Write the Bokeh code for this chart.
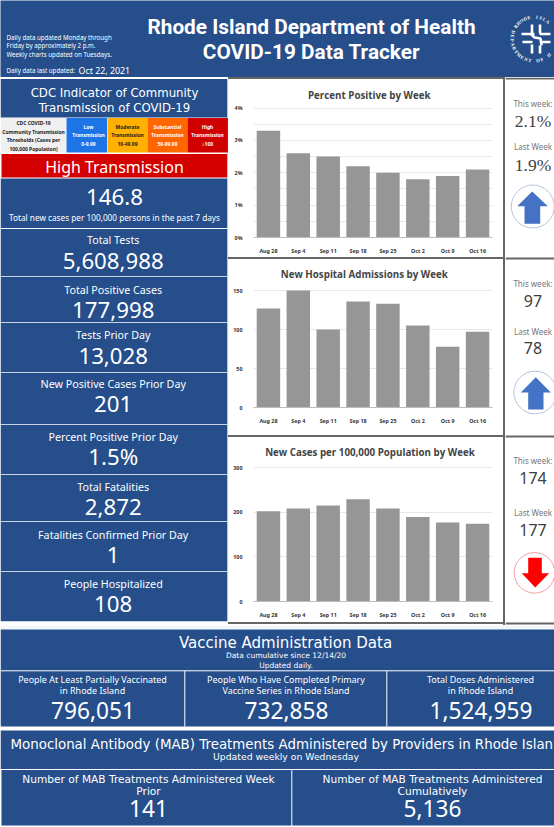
import numpy as np
from bokeh.plotting import figure
from bokeh.layouts import column, row
from bokeh.models import Range1d, FactorRange, Label, FixedTicker, Spacer
from bokeh.embed import file_html
from bokeh.resources import INLINE

# ---------- data ----------
WEEKS = ["Aug 28", "Sep 4", "Sep 11", "Sep 18", "Sep 25", "Oct 2", "Oct 9", "Oct 16"]
PERCENT_POSITIVE = [3.3, 2.6, 2.5, 2.2, 2.0, 1.8, 1.9, 2.1]
HOSPITAL_ADMISSIONS = [127, 150, 100, 136, 133, 105, 78, 97]
CASES_PER_100K = [202, 208, 215, 229, 208, 189, 177, 174]
CHART_TITLES = ["Percent Positive by Week", "New Hospital Admissions by Week",
                "New Cases per 100,000 Population by Week"]
THIS_WEEK = ["2.1%", "97", "174"]
LAST_WEEK = ["1.9%", "78", "177"]
STAT_TITLES = ["Total Tests", "Total Positive Cases", "Tests Prior Day",
               "New Positive Cases Prior Day", "Percent Positive Prior Day",
               "Total Fatalities", "Fatalities Confirmed Prior Day", "People Hospitalized"]
STAT_VALUES = ["5,608,988", "177,998", "13,028", "201", "1.5%", "2,872", "1", "108"]
VACCINE_TITLES = [["People At Least Partially Vaccinated", "in Rhode Island"],
                  ["People Who Have Completed Primary", "Vaccine Series in Rhode Island"],
                  ["Total Doses Administered", "in Rhode Island"]]
VACCINE_VALUES = ["796,051", "732,858", "1,524,959"]
MAB_TITLES = [["Number of MAB Treatments Administered Week", "Prior"],
              ["Number of MAB Treatments Administered", "Cumulatively"]]
MAB_VALUES = ["141", "5,136"]
THRESHOLDS = [["CDC COVID-19", "Community Transmission", "Thresholds (Cases per", "100,000 Population)"],
              ["Low", "Transmission", "0-9.99"],
              ["Moderate", "Transmission", "10-49.99"],
              ["Substantial", "Transmission", "50-99.99"],
              ["High", "Transmission", "\u2265100"]]

# ---------- layout constants ----------
W, H = 554, 827
BLUE = "#254E8B"
GRAY = "#666666"
SANS = "Noto Sans"
WIDE = "DejaVu Sans"

HEAD_H = 77
FOOT_H = 202
MID_H = H - HEAD_H - FOOT_H
LEFT_W = 228
CHART_W = 275
RIGHT_W = W - LEFT_W - CHART_W - 2
FS = 1 / 0.971  # font sizes below were measured on a 0.971 scale


def panel(width, height, x0, x1, y0, y1, bg="white"):
    p = figure(width=width, height=height, x_range=Range1d(x0, x1), y_range=Range1d(y1, y0),
               x_axis_location=None, y_axis_location=None, min_border=0,
               toolbar_location=None, output_backend="svg", background_fill_color=bg,
               border_fill_color=bg)
    p.grid.visible = False
    p.outline_line_color = None
    return p


def text(p, x, y, s, size, color="white", font=SANS, bold=False, align="center", angle=0):
    p.add_layout(Label(x=x, y=y, text=s, text_font_size=f"{size * FS:.2f}px", text_color=color,
                       text_font=font, text_font_style="bold" if bold else "normal",
                       text_align=align, text_baseline="middle", angle=angle))


def box(p, l, r, t, b, color):
    p.quad(left=[l], right=[r], top=[t], bottom=[b], fill_color=color, line_color=None)


# ---------- header ----------
header = panel(W, HEAD_H, 0, 554, 0, 77, BLUE)
for s, y in zip(["Daily data updated Monday through", "Friday by approximately 2 p.m.",
                 "Weekly charts updated on Tuesdays."], [36.5, 45, 53.5]):
    text(header, 6, y, s, 6, align="left")
text(header, 6, 70, "Daily data last updated:", 6, align="left")
text(header, 78, 70, "Oct 22, 2021", 8.6, align="left")
text(header, 311, 26, "Rhode Island Department of Health", 20.2, font="Roboto", bold=True)
text(header, 311, 51, "COVID-19 Data Tracker", 20.2, font="Roboto", bold=True)

# logo: lettering around a ring and a stylised emblem
cx, cy, rad = 533.5, 38.5, 22.0
for i, ch in enumerate("RHODE ISLA"):
    th = np.radians(145 - i * 10.4)
    text(header, cx + rad * np.cos(th), cy - rad * np.sin(th), ch, 4.6, font="Liberation Serif",
         bold=True, angle=th - np.pi / 2)
for i, ch in enumerate("DEPARTMENT OF H"):
    th = np.radians(162 + i * 10.8)
    text(header, cx + rad * np.cos(th), cy - rad * np.sin(th), ch, 4.6, font="Liberation Serif",
         bold=True, angle=th + np.pi / 2)
header.multi_line(xs=[[531.5, 531.5], [539.5, 539.5], [521, 534], [539, 550], [522, 532], [540, 550],
                      [531.5, 531.5], [539.5, 539.5], [530, 534, 540, 541]],
                  ys=[[24, 34], [24, 33], [33.5, 33.5], [33.5, 33.5], [41.5, 41.5], [41.5, 41.5],
                      [44, 53], [45, 53], [33, 37, 38, 45]],
                  line_color="white", line_width=2.6)

# ---------- left column ----------
left = panel(LEFT_W, MID_H, 0, 228, 77, 625, "white")
box(left, 0, 226.7, 78.5, 117, BLUE)
text(left, 114, 92, "CDC Indicator of Community", 11.4, font=WIDE)
text(left, 114, 107, "Transmission of COVID-19", 11.4, font=WIDE)

cells = [(0, 65.5, "#F0F0F0", "#222222", 33), (66, 106.5, "#1D74E6", "white", 88),
         (107, 147, "#FFB000", "#222222", 127), (147, 187, "#FF6600", "white", 167),
         (187, 228, "#D00000", "white", 207)]
for (l, r, bg, fg, mid), lines in zip(cells, THRESHOLDS):
    box(left, l, r, 117.5, 152, bg)
    ys = [122, 131, 139.5, 148] if len(lines) == 4 else [126, 134.5, 143]
    for s, y in zip(lines, ys):
        text(left, mid, y, s, 4.8, color=fg, bold=True)

box(left, 1, 226.7, 153.5, 177, "#D40000")
text(left, 114, 166.5, "High Transmission", 15.5)
box(left, 0, 226.7, 178, 227.5, BLUE)
text(left, 114, 196, "146.8", 21.6)
text(left, 114, 216.5, "Total new cases per 100,000 persons in the past 7 days", 8)

edges = [228.5, 276.5, 322.5, 372.5, 424.5, 474.5, 521.5, 571.5, 621.5]
title_y = [239, 289, 334, 383, 436, 486, 534, 583]
value_y = [260, 309, 355, 403, 456, 506, 554, 603]
for i, (t, v) in enumerate(zip(STAT_TITLES, STAT_VALUES)):
    box(left, 0, 226.7, edges[i], edges[i + 1] - 0.8, BLUE)
    text(left, 112.7, title_y[i], t, 10.4)
    text(left, 112.7, value_y[i], v, 21.6)
left.line([227.8, 227.8], [78, 622], line_color=GRAY, line_width=1)


# ---------- charts ----------
def chart(values, title, ymax, yticks, ylabels, gridticks, top, bottom, f_top, f_bot, title_x, title_y_):
    h = bottom - top
    # the frame runs up to the top of the figure, so that the title can sit in it
    unit = ymax / (f_bot - f_top)
    p = figure(width=CHART_W, height=h, x_range=FactorRange(*WEEKS, factor_padding=0, range_padding=0),
               y_range=Range1d(0, (f_bot - top) * unit), toolbar_location=None, output_backend="svg",
               min_border_left=25, min_border_right=11,
               min_border_top=0, min_border_bottom=bottom - f_bot)
    p.vbar(x=WEEKS, top=values, width=0.785, fill_color="#969696", line_color=None)
    p.outline_line_color = None
    p.xgrid.visible = False
    p.ygrid.ticker = FixedTicker(ticks=gridticks)
    p.ygrid.grid_line_color = "#E8E8E8"
    p.yaxis.ticker = FixedTicker(ticks=yticks)
    p.yaxis.major_label_overrides = dict(zip(yticks, ylabels))
    p.yaxis.axis_line_color = None
    p.xaxis.axis_line_color = "#BDBDBD"
    for ax in (p.xaxis[0], p.yaxis[0]):
        ax.major_tick_line_color = None
        ax.minor_tick_line_color = None
        ax.major_label_text_font_size = f"{5.2 * FS:.2f}px"
        ax.major_label_text_color = "#333333"
        ax.major_label_text_font = SANS
        ax.major_label_text_font_style = "bold"
    p.xaxis.major_label_standoff = 3
    p.yaxis.major_label_standoff = 5
    pos = (title_x - 253) / 29.93
    idx = int(pos)
    p.text(x=[(WEEKS[idx], pos - idx - 0.5)], y=[(f_bot - title_y_) * unit], text=[title],
           text_font=["Open Sans"], text_font_style="bold", text_font_size=f"{9.5 * FS:.2f}px",
           text_color="#444444", text_align="center", text_baseline="middle")
    return p


c1 = chart(PERCENT_POSITIVE, CHART_TITLES[0], 4, [0, 1, 2, 3, 4], ["0%", "1%", "2%", "3%", "4%"],
           [0, .5, 1, 1.5, 2, 2.5, 3, 3.5, 4], 79, 257, 107.7, 238, 369, 95)
c2 = chart(HOSPITAL_ADMISSIONS, CHART_TITLES[1], 150, [0, 50, 100, 150], ["0", "50", "100", "150"],
           [0, 50, 100, 150], 259, 435, 290, 407, 364, 274.3)
c3 = chart(CASES_PER_100K, CHART_TITLES[2], 300, [0, 100, 200, 300], ["0", "100", "200", "300"],
           [0, 100, 200, 300], 437, 622, 467, 601, 369.7, 451.7)


def rule(w, h, color=GRAY):
    return Spacer(width=w, height=h, styles={"background-color": color})


used = c1.height + c2.height + c3.height + 8
charts = column(rule(CHART_W, 2), c1, rule(CHART_W, 2), c2, rule(CHART_W, 2), c3, rule(CHART_W, 2),
                rule(CHART_W, MID_H - used, "white"), spacing=0)

# ---------- right column ----------
right = panel(RIGHT_W, MID_H, 505, 554, 77, 625)
for y in (78, 258, 436, 623):
    right.line([505, 554], [y, y], line_color=GRAY, line_width=2)
txt_y = [(102.7, 120, 146, 164), (283, 300, 330.7, 347.3), (460, 477.3, 512.3, 529)]
for i, (tw, lw) in enumerate(zip(THIS_WEEK, LAST_WEEK)):
    f = "Liberation Serif" if i == 0 else SANS
    sz = 17 if i == 0 else 15.5
    a, b, c, d = txt_y[i]
    text(right, 532.5, a, "This week:", 7.8, color="#777777")
    text(right, 532.5, b, tw, sz, color="#404040", font=f)
    text(right, 532.5, c, "Last Week", 7.8, color="#777777")
    text(right, 532.5, d, lw, sz, color="#404040", font=f)

right.circle(x=[532.3], y=[206], radius=21.5, fill_color="white", line_color="#B8C4DC", line_width=1)
right.patch([531.7, 547.3, 539.7, 539.7, 524, 524, 516.7], [191, 205.7, 205.7, 223.3, 223.3, 205.7, 205.7],
            fill_color="#4472C4", line_color=None)
right.circle(x=[534.7], y=[392], radius=21.3, fill_color="white", line_color="#B8C4DC", line_width=1)
right.patch([535.3, 550.3, 543, 543, 527.7, 527.7, 520.3], [376.7, 392, 392, 409, 409, 392, 392],
            fill_color="#4472C4", line_color=None)
right.circle(x=[534], y=[572.3], radius=20.3, fill_color="white", line_color="#F4A0A0", line_width=1)
right.patch([527.7, 541.3, 541.3, 548.7, 534.7, 521.3, 527.7], [557.3, 557.3, 572.7, 572.7, 587, 572.7, 572.7],
            fill_color="#FF0000", line_color=None)

middle = row(left, charts, rule(2, MID_H), right, spacing=0)

# ---------- bottom ----------
bottom = panel(W, FOOT_H, 0, 554, 625, 827)
box(bottom, 0, 554, 625, 629, "#F3F7FA")
box(bottom, 0, 554, 629, 726, BLUE)
box(bottom, 0, 554, 730, 768.5, BLUE)
box(bottom, 1, 290.8, 769.5, 825, BLUE)
box(bottom, 291.8, 554, 769.5, 825, BLUE)
bottom.line([0, 554], [670.3, 670.3], line_color="white", line_width=1)
bottom.line([184.3, 184.3], [670.3, 726], line_color="white", line_width=1)
bottom.line([386.3, 386.3], [670.3, 726], line_color="white", line_width=1)

text(bottom, 285, 642.7, "Vaccine Administration Data", 14.6, font=WIDE)
text(bottom, 285.5, 655, "Data cumulative since 12/14/20", 7.3, font=WIDE)
text(bottom, 285.5, 665, "Updated daily.", 7.3, font=WIDE)
for mid, lines, v in zip([92, 285.5, 480], VACCINE_TITLES, VACCINE_VALUES):
    text(bottom, mid, 678.5, lines[0], 8.7)
    text(bottom, mid, 689.5, lines[1], 8.7)
    text(bottom, mid + 0.5, 709.5, v, 22)

text(bottom, 10, 744, "Monoclonal Antibody (MAB) Treatments Administered by Providers in Rhode Islan", 13,
     font=WIDE, align="left")
text(bottom, 285.5, 755.7, "Updated weekly on Wednesday", 9, font=WIDE)
for mid, lines, v in zip([148, 432], MAB_TITLES, MAB_VALUES):
    text(bottom, mid, 779, lines[0], 10.3, font=WIDE)
    text(bottom, mid, 790.5, lines[1], 10.3, font=WIDE)
    text(bottom, mid, 808, v, 22)

page = column(header, middle, bottom, spacing=0)
open("out.html", "w").write(file_html(page, INLINE))
